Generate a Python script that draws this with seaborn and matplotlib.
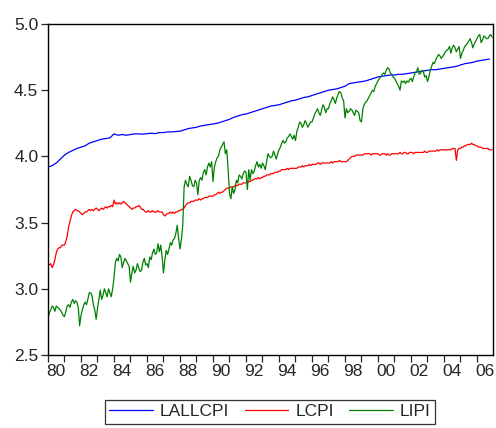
import numpy as np
import pandas as pd
import matplotlib
matplotlib.use("Agg")
import matplotlib.pyplot as plt
import seaborn as sns

# LALLCPI, quarterly 1980Q1..2006Q4
lallcpi = [
    3.92, 3.93, 3.95, 3.98,
    4.01, 4.03, 4.045, 4.06,
    4.07, 4.08, 4.10, 4.11,
    4.12, 4.13, 4.135, 4.14,
    4.17, 4.16, 4.165, 4.16,
    4.165, 4.17, 4.17, 4.168,
    4.172, 4.175, 4.172, 4.18,
    4.18, 4.185, 4.185, 4.188,
    4.19, 4.20, 4.21, 4.215,
    4.22, 4.23, 4.235, 4.24,
    4.245, 4.25, 4.26, 4.27,
    4.28, 4.295, 4.305, 4.315,
    4.32, 4.33, 4.34, 4.35,
    4.36, 4.37, 4.38, 4.385,
    4.39, 4.40, 4.41, 4.42,
    4.425, 4.435, 4.445, 4.45,
    4.46, 4.47, 4.48, 4.49,
    4.50, 4.505, 4.51, 4.52,
    4.53, 4.55, 4.555, 4.56,
    4.565, 4.57, 4.58, 4.59,
    4.60, 4.605, 4.61, 4.615,
    4.615, 4.62, 4.62, 4.625,
    4.63, 4.635, 4.64, 4.645,
    4.65, 4.655, 4.655, 4.66,
    4.665, 4.67, 4.675, 4.68,
    4.69, 4.70, 4.705, 4.71,
    4.72, 4.725, 4.73, 4.735,
]

# LCPI, monthly 1980M01..2006M12
lcpi = [
    3.19, 3.18, 3.19, 3.16, 3.18, 3.22, 3.27, 3.30, 3.31, 3.31, 3.33, 3.33,
    3.33, 3.36, 3.40, 3.47, 3.51, 3.55, 3.58, 3.59, 3.60, 3.59, 3.59, 3.58,
    3.57, 3.56, 3.57, 3.58, 3.58, 3.59, 3.60, 3.59, 3.60, 3.59, 3.60, 3.61,
    3.60, 3.59, 3.60, 3.61, 3.60, 3.61, 3.62, 3.61, 3.62, 3.62, 3.63, 3.62,
    3.67, 3.64, 3.65, 3.64, 3.65, 3.64, 3.65, 3.66, 3.65, 3.64, 3.63, 3.62,
    3.61, 3.60, 3.61, 3.61, 3.62, 3.62, 3.63, 3.62, 3.60, 3.60, 3.59, 3.58,
    3.58, 3.59, 3.58, 3.58, 3.59, 3.58, 3.58, 3.58, 3.59, 3.58, 3.58, 3.58,
    3.56, 3.55, 3.56, 3.57, 3.57, 3.58, 3.57, 3.58, 3.57, 3.58, 3.58, 3.59,
    3.59, 3.60, 3.60, 3.61, 3.63, 3.64, 3.65, 3.65, 3.66, 3.66, 3.66, 3.67,
    3.67, 3.67, 3.68, 3.67, 3.68, 3.68, 3.69, 3.69, 3.69, 3.70, 3.70, 3.70,
    3.70, 3.71, 3.71, 3.72, 3.73, 3.72, 3.73, 3.73, 3.74, 3.75, 3.76, 3.76,
    3.76, 3.77, 3.77, 3.77, 3.78, 3.78, 3.78, 3.79, 3.79, 3.79, 3.80, 3.80,
    3.80, 3.80, 3.81, 3.81, 3.82, 3.82, 3.83, 3.83, 3.83, 3.84, 3.83, 3.84,
    3.84, 3.85, 3.85, 3.86, 3.86, 3.86, 3.87, 3.87, 3.87, 3.88, 3.88, 3.88,
    3.89, 3.89, 3.90, 3.90, 3.90, 3.90, 3.91, 3.90, 3.91, 3.91, 3.91, 3.91,
    3.91, 3.91, 3.92, 3.92, 3.92, 3.93, 3.92, 3.93, 3.93, 3.93, 3.94, 3.93,
    3.94, 3.94, 3.94, 3.94, 3.95, 3.95, 3.94, 3.95, 3.95, 3.95, 3.95, 3.95,
    3.95, 3.95, 3.96, 3.95, 3.96, 3.96, 3.96, 3.96, 3.97, 3.96, 3.96, 3.96,
    3.96, 3.96, 3.97, 3.98, 3.99, 4.00, 4.00, 4.00, 4.01, 4.01, 4.01, 4.01,
    4.01, 4.01, 4.02, 4.02, 4.02, 4.02, 4.02, 4.01, 4.02, 4.02, 4.02, 4.02,
    4.02, 4.01, 4.01, 4.02, 4.02, 4.02, 4.01, 4.02, 4.01, 4.01, 4.02, 4.02,
    4.02, 4.02, 4.02, 4.02, 4.03, 4.02, 4.02, 4.03, 4.03, 4.02, 4.02, 4.03,
    4.03, 4.03, 4.02, 4.03, 4.03, 4.03, 4.03, 4.03, 4.03, 4.03, 4.04, 4.03,
    4.03, 4.04, 4.04, 4.04, 4.04, 4.04, 4.04, 4.05, 4.04, 4.05, 4.05, 4.05,
    4.05, 4.05, 4.05, 4.05, 4.05, 4.05, 4.06, 4.06, 4.06, 3.97, 4.05, 4.06,
    4.06, 4.07, 4.07, 4.08, 4.08, 4.09, 4.09, 4.09, 4.10, 4.09, 4.09, 4.08,
    4.08, 4.07, 4.07, 4.07, 4.06, 4.06, 4.06, 4.06, 4.06, 4.05, 4.05, 4.05,
]

# LIPI, monthly 1980M01..2006M12
lipi = [
    2.78, 2.82, 2.84, 2.87, 2.86, 2.83, 2.87, 2.86, 2.85, 2.84, 2.82, 2.80,
    2.79, 2.83, 2.87, 2.88, 2.86, 2.90, 2.92, 2.89, 2.91, 2.90, 2.86, 2.72,
    2.80, 2.84, 2.88, 2.90, 2.88, 2.92, 2.97, 2.97, 2.95, 2.88, 2.84, 2.77,
    2.85, 2.92, 2.99, 2.92, 2.95, 3.00, 2.97, 2.94, 3.00, 2.97, 2.94, 3.00,
    3.08, 3.20, 3.23, 3.21, 3.26, 3.24, 3.16, 3.20, 3.23, 3.21, 3.19, 3.17,
    3.05, 3.12, 3.17, 3.12, 3.14, 3.19, 3.16, 3.13, 3.14, 3.20, 3.23, 3.18,
    3.19, 3.16, 3.24, 3.22, 3.27, 3.30, 3.26, 3.27, 3.34, 3.28, 3.33, 3.24,
    3.12, 3.22, 3.29, 3.26, 3.30, 3.35, 3.33, 3.37, 3.38, 3.42, 3.48, 3.38,
    3.30, 3.37, 3.48, 3.77, 3.82, 3.79, 3.77, 3.85, 3.82, 3.78, 3.77, 3.82,
    3.80, 3.71, 3.82, 3.84, 3.82, 3.88, 3.90, 3.86, 3.92, 3.95, 3.92, 3.96,
    3.81, 3.92, 3.96, 3.99, 4.00, 4.05, 4.07, 4.09, 4.11, 4.02, 4.05, 3.90,
    3.72, 3.68, 3.77, 3.72, 3.75, 3.82, 3.80, 3.86, 3.85, 3.83, 3.87, 3.89,
    3.88, 3.75, 3.90, 3.82, 3.90, 3.87, 3.89, 3.93, 3.96, 3.92, 3.94, 3.91,
    3.95, 3.93, 3.90, 3.96, 4.02, 4.00, 3.99, 4.00, 4.04, 4.01, 3.98, 4.02,
    4.05, 4.07, 4.10, 4.12, 4.10, 4.11, 4.14, 4.15, 4.17, 4.15, 4.13, 4.16,
    4.12, 4.19, 4.22, 4.26, 4.25, 4.22, 4.24, 4.27, 4.25, 4.22, 4.24, 4.26,
    4.26, 4.29, 4.32, 4.34, 4.36, 4.33, 4.31, 4.35, 4.39, 4.37, 4.33, 4.36,
    4.36, 4.40, 4.42, 4.45, 4.43, 4.40, 4.44, 4.47, 4.49, 4.48, 4.44, 4.42,
    4.29, 4.36, 4.33, 4.34, 4.36, 4.35, 4.33, 4.31, 4.35, 4.34, 4.33, 4.27,
    4.26, 4.36, 4.39, 4.41, 4.42, 4.44, 4.46, 4.48, 4.50, 4.49, 4.53, 4.55,
    4.57, 4.59, 4.60, 4.62, 4.63, 4.62, 4.65, 4.67, 4.66, 4.63, 4.62, 4.60,
    4.59, 4.57, 4.55, 4.53, 4.50, 4.57, 4.56, 4.57, 4.55, 4.57, 4.56, 4.58,
    4.59, 4.565, 4.60, 4.63, 4.64, 4.67, 4.62, 4.63, 4.65, 4.64, 4.60, 4.61,
    4.565, 4.60, 4.65, 4.68, 4.71, 4.70, 4.73, 4.75, 4.77, 4.76, 4.74, 4.755,
    4.77, 4.79, 4.80, 4.81, 4.83, 4.78, 4.82, 4.84, 4.82, 4.79, 4.81, 4.83,
    4.74, 4.78, 4.80, 4.83, 4.84, 4.855, 4.87, 4.89, 4.86, 4.82, 4.85, 4.87,
    4.89, 4.91, 4.92, 4.86, 4.88, 4.91, 4.90, 4.89, 4.89, 4.91, 4.92, 4.90,
]

series_names = ["LALLCPI", "LCPI", "LIPI"]
colors = ["#0000ff", "#ff0000", "#008000"]

# decimal-year dates
q_dates = 1980 + np.arange(len(lallcpi)) / 4
m_dates = 1980 + np.arange(len(lcpi)) / 12

df = pd.concat([
    pd.DataFrame({"date": q_dates, "value": lallcpi, "series": "LALLCPI"}),
    pd.DataFrame({"date": m_dates, "value": lcpi, "series": "LCPI"}),
    pd.DataFrame({"date": m_dates, "value": lipi, "series": "LIPI"}),
], ignore_index=True)

sns.set_style("ticks")
plt.rcParams["font.family"] = ["Liberation Sans", "DejaVu Sans"]

fig = plt.figure(figsize=(4.96, 4.28), dpi=100)
ax = fig.add_axes([48 / 496, 1 - 355 / 428, 445 / 496, 331 / 428])

sns.lineplot(data=df, x="date", y="value", hue="series", hue_order=series_names,
             palette=colors, estimator=None, sort=False, linewidth=0.9, ax=ax)

ax.set_xlim(1980, 2006.97)
ax.set_ylim(2.5, 5.0)
ax.set_yticks([2.5, 3.0, 3.5, 4.0, 4.5, 5.0])
ax.set_yticklabels(["2.5", "3.0", "3.5", "4.0", "4.5", "5.0"])

# ticks every year, labels centred in even years
years = np.arange(1980, 2007)
ax.set_xticks(years)
ax.set_xticklabels([])
label_years = np.arange(1980, 2007, 2)
ax.set_xticks(label_years + 0.5, minor=True)
ax.set_xticklabels([f"{y % 100:02d}" for y in label_years], minor=True)
ax.tick_params(axis="x", which="minor", length=0, pad=6.5, labelsize=12.5)
ax.tick_params(axis="x", which="major", length=5, width=0.9, direction="out")
ax.tick_params(axis="y", length=5, width=0.9, pad=2, labelsize=12.5, direction="out")

ax.set_xlabel("")
ax.set_ylabel("")
for s in ax.spines.values():
    s.set_visible(True)
    s.set_color("black")
    s.set_linewidth(1.0)

ax.legend_.remove()
handles = ax.get_lines()[:3]
fig.legend(handles, series_names, loc="upper center", ncol=3,
           bbox_to_anchor=(270 / 496, 1 - 400 / 428), frameon=True, fancybox=False,
           edgecolor="black", fontsize=12.5, handlelength=2.5, handletextpad=0.4,
           columnspacing=0.9, borderpad=0.25, borderaxespad=0)
fig.legends[0].get_frame().set_linewidth(0.9)

fig.savefig("out.png", dpi=100)
